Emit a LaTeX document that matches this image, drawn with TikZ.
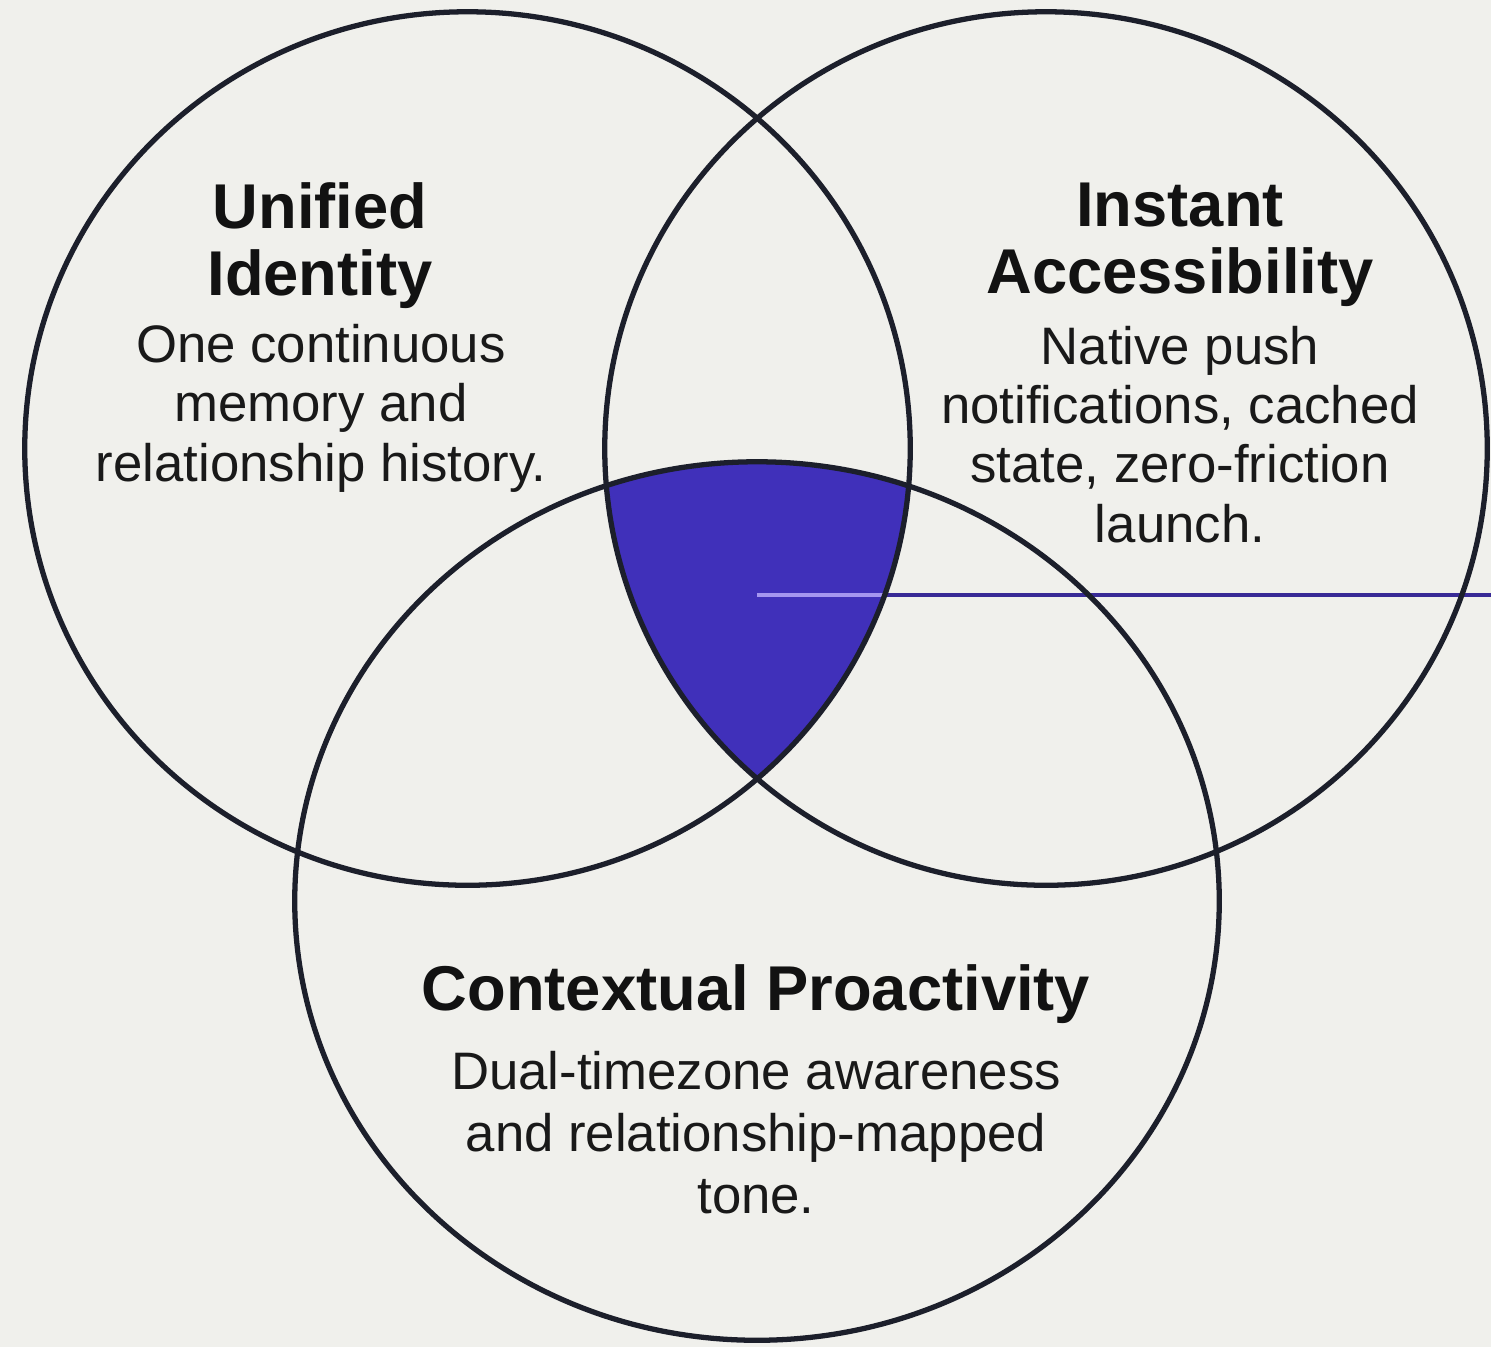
\documentclass[tikz,border=0pt]{standalone}
\usepackage{fontspec}
\setmainfont{Liberation Sans}
\usepackage{tikz}
\usetikzlibrary{positioning}
\usepackage{xcolor}

\definecolor{paper}{RGB}{240,240,236}
\definecolor{ink}{RGB}{28,31,43}
\definecolor{corefill}{RGB}{64,48,186}
\definecolor{coreline}{RGB}{56,42,150}
\definecolor{corelight}{RGB}{165,150,240}

\tikzset{
  setring/.style={draw=ink, line width=1.5pt},
  settitle/.style={anchor=base, align=center, inner sep=0pt, text=black!93,
    font=\fontsize{18}{18.8}\selectfont\bfseries},
  setbody/.style={anchor=base, align=center, inner sep=0pt, text=black!90,
    font=\fontsize{15}{16.8}\selectfont},
}

\begin{document}
\begin{tikzpicture}[x=0.01cm, y=-0.01cm]
  % Canvas.
  \fill [paper] (0,0) rectangle (1491,1347);
  \useasboundingbox (0,0) rectangle (1491,1347);

  % Shared core, where all three sets meet.
  \begin{scope}
    \clip (467.5,448.5) ellipse [x radius=4.425cm, y radius=4.365cm];
    \clip (1046,448.5) ellipse [x radius=4.41cm, y radius=4.365cm];
    \fill [corefill] (757,901) ellipse [x radius=4.62cm, y radius=4.39cm];
  \end{scope}

  % Pointer out of the core.
  \coordinate (core) at (757,595);
  \coordinate (rim) at (1491,595);
  \draw [coreline, line width=1.1pt] (core) -- (rim);
  \begin{scope}
    \clip (467.5,448.5) ellipse [x radius=4.425cm, y radius=4.365cm];
    \draw [corelight, line width=1.1pt] (core) -- (rim);
  \end{scope}

  % The three sets.
  \draw [setring] (467.5,448.5) ellipse [x radius=4.425cm, y radius=4.365cm];
  \draw [setring] (1046,448.5) ellipse [x radius=4.41cm, y radius=4.365cm];
  \draw [setring] (757,901) ellipse [x radius=4.62cm, y radius=4.39cm];

  % Unified Identity, upper left (base sits on the last line).
  \node [settitle] (uniTitle) at (320,295) {Unified\\Identity};
  \node [setbody] (uniText) at (321,481)
    {One continuous\\memory and\\relationship history.};

  % Instant Accessibility, upper right.
  \node [settitle] (instTitle) at (1180,293) {Instant\\Accessibility};
  \node [setbody] (instText) at (1180,542)
    {Native push\\notifications, cached\\state, zero-friction\\launch.};

  % Contextual Proactivity, bottom.
  \node [settitle] (ctxTitle) at (756,1010) {Contextual Proactivity};
  \node [setbody,
    font=\fontsize{15}{17.6}\selectfont] (ctxText) at (756,1213)
    {Dual-timezone awareness\\and relationship-mapped\\tone.};
\end{tikzpicture}
\end{document}
